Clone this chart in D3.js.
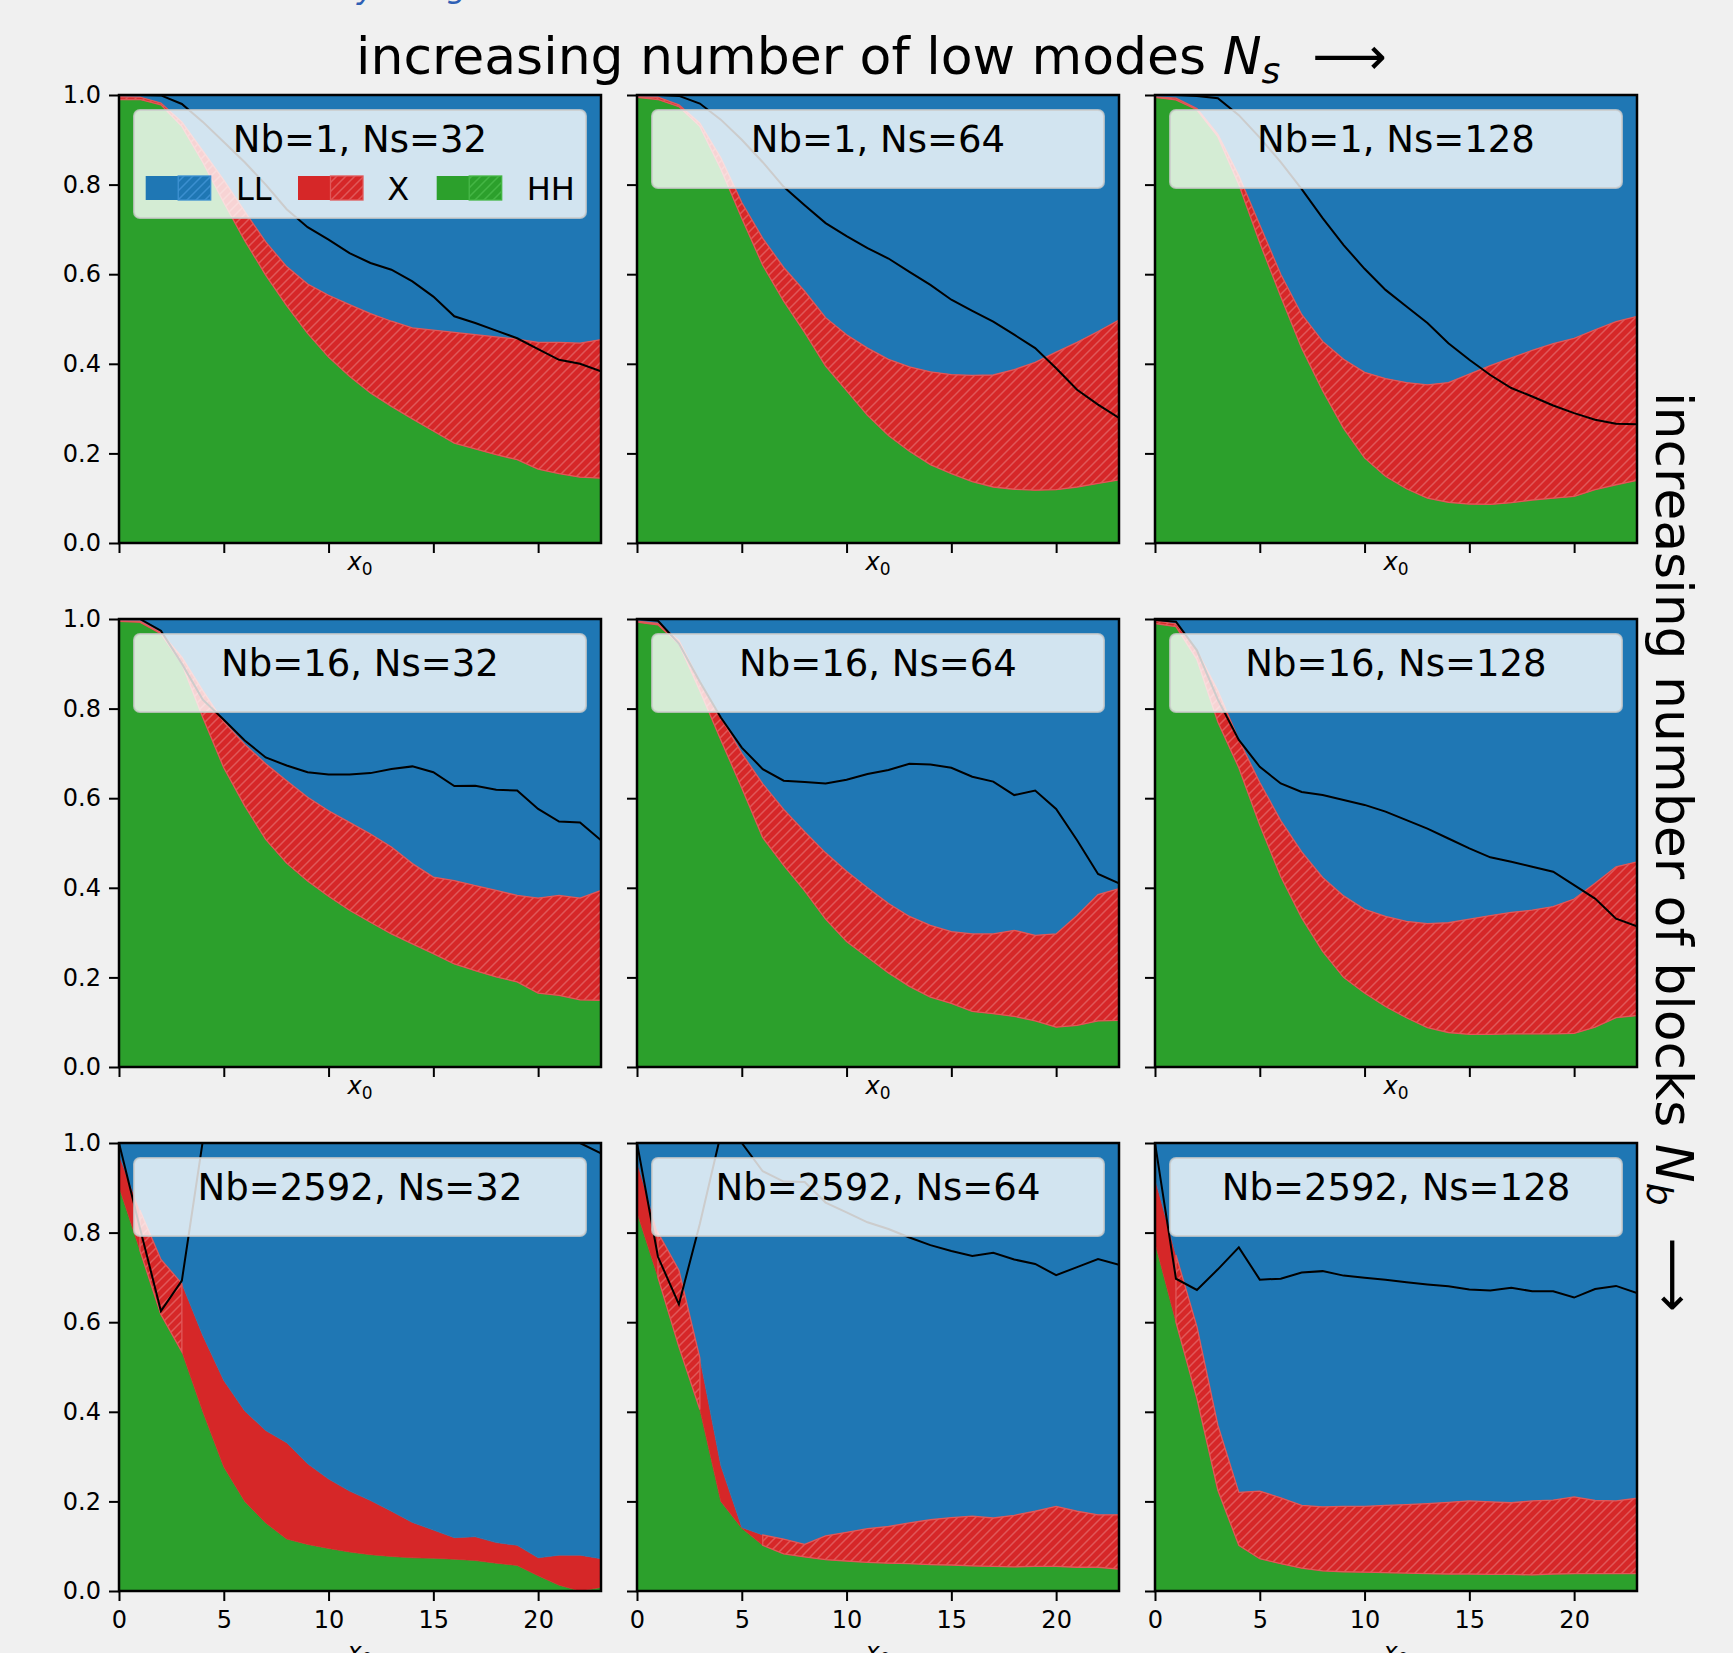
<!DOCTYPE html>
<html>
<head>
<meta charset="utf-8">
<script src="https://cdn.jsdelivr.net/npm/d3@7"></script>
<style>
  body { margin: 0; background: #f0f0f0; }
  svg { display: block; }
  text { font-family: "DejaVu Sans", sans-serif; }
</style>
</head>
<body>
<div id="chart"></div>
<script>
// x0 positions and tick values
const xVals = [0,1,2,3,4,5,6,7,8,9,10,11,12,13,14,15,16,17,18,19,20,21,22,23];
const xTicks = [0,5,10,15,20];
const yTicks = [0,0.2,0.4,0.6,0.8,1.0];
const nbList = [1, 16, 2592];
const nsList = [32, 64, 128];
const seriesKeys = ["HH","X","LL"];
const seriesColors = ["#2ca02c","#d62728","#1f77b4"];
const legendLabels = ["LL","X","HH"];
const legendColors = ["#1f77b4","#d62728","#2ca02c"];

// Nb=1, Ns=32
const hh_1_32 = [0.99,0.99,0.978,0.93,0.85,0.76,0.675,0.598,0.53,0.468,0.415,0.372,0.335,0.305,0.277,0.25,0.223,0.21,0.197,0.186,0.165,0.155,0.147,0.145];
const x_1_32  = [0.006,0.005,0.004,0.01,0.025,0.05,0.065,0.074,0.087,0.11,0.138,0.16,0.177,0.19,0.203,0.225,0.247,0.255,0.263,0.269,0.283,0.293,0.299,0.309];
const ll_1_32 = [0.004,0.005,0.018,0.06,0.125,0.19,0.26,0.328,0.383,0.422,0.447,0.468,0.488,0.505,0.52,0.525,0.53,0.535,0.54,0.545,0.552,0.552,0.554,0.546];
const r_1_32  = [1.0,1.0,0.999,0.98,0.94,0.895,0.85,0.80,0.745,0.705,0.677,0.647,0.625,0.61,0.584,0.55,0.506,0.491,0.474,0.457,0.433,0.409,0.4,0.383];

// Nb=1, Ns=64
const hh_1_64 = [0.995,0.99,0.974,0.93,0.835,0.725,0.62,0.54,0.47,0.395,0.34,0.285,0.24,0.205,0.175,0.155,0.137,0.125,0.12,0.118,0.119,0.125,0.133,0.141];
const x_1_64  = [0.001,0.005,0.004,0.007,0.025,0.035,0.06,0.075,0.092,0.108,0.125,0.15,0.17,0.188,0.207,0.221,0.237,0.25,0.267,0.285,0.307,0.323,0.339,0.357];
const ll_1_64 = [0.004,0.005,0.022,0.063,0.14,0.24,0.32,0.385,0.438,0.497,0.535,0.565,0.59,0.607,0.618,0.624,0.626,0.625,0.613,0.597,0.574,0.552,0.528,0.502];
const r_1_64  = [1.0,1.0,0.998,0.981,0.945,0.9,0.85,0.795,0.754,0.714,0.685,0.658,0.635,0.605,0.576,0.543,0.518,0.494,0.465,0.435,0.39,0.342,0.309,0.279];

// Nb=1, Ns=128
const hh_1_128 = [0.995,0.989,0.967,0.907,0.8,0.67,0.55,0.435,0.34,0.256,0.19,0.149,0.121,0.1,0.091,0.087,0.086,0.09,0.096,0.1,0.104,0.119,0.13,0.14];
const x_1_128  = [0.001,0.004,0.003,0.005,0.02,0.04,0.05,0.075,0.11,0.154,0.191,0.218,0.237,0.253,0.267,0.29,0.31,0.323,0.334,0.345,0.353,0.357,0.364,0.366];
const ll_1_128 = [0.004,0.007,0.03,0.088,0.18,0.29,0.4,0.49,0.55,0.59,0.619,0.633,0.642,0.647,0.642,0.623,0.604,0.587,0.57,0.555,0.543,0.524,0.506,0.494];
const r_1_128  = [1.0,1.0,0.998,0.993,0.955,0.905,0.85,0.79,0.725,0.665,0.612,0.565,0.528,0.491,0.446,0.409,0.375,0.346,0.327,0.307,0.29,0.275,0.266,0.265];

// Nb=16, Ns=32
const hh_16_32 = [0.995,0.993,0.967,0.9,0.78,0.668,0.583,0.508,0.455,0.415,0.381,0.35,0.323,0.297,0.275,0.253,0.23,0.215,0.201,0.19,0.165,0.16,0.15,0.149];
const x_16_32  = [0.001,0.002,0.003,0.015,0.06,0.102,0.137,0.169,0.184,0.187,0.191,0.196,0.197,0.194,0.179,0.171,0.186,0.19,0.193,0.193,0.212,0.223,0.227,0.245];
const ll_16_32 = [0.004,0.005,0.03,0.085,0.16,0.23,0.28,0.323,0.361,0.398,0.428,0.454,0.48,0.509,0.546,0.576,0.584,0.595,0.606,0.617,0.623,0.617,0.623,0.606];
const r_16_32  = [1.0,1.0,0.974,0.9,0.82,0.775,0.729,0.691,0.673,0.658,0.653,0.653,0.656,0.665,0.671,0.658,0.627,0.628,0.619,0.617,0.576,0.548,0.546,0.506];

// Nb=16, Ns=64
const hh_16_64 = [0.993,0.987,0.944,0.84,0.73,0.623,0.512,0.45,0.393,0.33,0.28,0.245,0.21,0.18,0.156,0.142,0.124,0.119,0.113,0.103,0.089,0.093,0.103,0.104];
const x_16_64  = [0.002,0.003,0.008,0.02,0.05,0.077,0.12,0.125,0.132,0.148,0.157,0.155,0.155,0.156,0.16,0.16,0.173,0.178,0.192,0.191,0.208,0.245,0.282,0.294];
const ll_16_64 = [0.005,0.01,0.048,0.14,0.22,0.3,0.368,0.425,0.475,0.522,0.563,0.6,0.635,0.664,0.684,0.698,0.703,0.703,0.695,0.706,0.703,0.662,0.615,0.602];
const r_16_64  = [1.0,0.996,0.945,0.86,0.78,0.713,0.665,0.639,0.636,0.633,0.641,0.654,0.663,0.677,0.675,0.668,0.648,0.637,0.607,0.617,0.576,0.506,0.431,0.41];

// Nb=16, Ns=128
const hh_16_128 = [0.99,0.983,0.91,0.77,0.668,0.54,0.425,0.333,0.258,0.2,0.165,0.135,0.11,0.088,0.077,0.073,0.073,0.074,0.074,0.074,0.075,0.089,0.11,0.115];
const x_16_128  = [0.006,0.006,0.02,0.07,0.062,0.095,0.125,0.147,0.165,0.182,0.187,0.201,0.215,0.232,0.245,0.257,0.265,0.271,0.276,0.284,0.3,0.321,0.337,0.343];
const ll_16_128 = [0.004,0.011,0.07,0.16,0.27,0.365,0.45,0.52,0.577,0.618,0.648,0.664,0.675,0.68,0.678,0.67,0.662,0.655,0.65,0.642,0.625,0.59,0.553,0.542];
const r_16_128  = [0.998,0.994,0.93,0.82,0.73,0.67,0.633,0.614,0.607,0.596,0.585,0.57,0.551,0.532,0.51,0.488,0.468,0.458,0.447,0.436,0.406,0.376,0.331,0.314];

// Nb=2592, Ns=32
const hh_2592_32 = [0.902,0.76,0.617,0.534,0.40,0.277,0.2,0.152,0.116,0.104,0.095,0.087,0.081,0.077,0.074,0.073,0.071,0.068,0.062,0.057,0.034,0.013,0.0,0.008];
const x_2592_32  = [0.071,0.09,0.123,0.152,0.17,0.193,0.202,0.206,0.215,0.18,0.155,0.136,0.121,0.101,0.079,0.063,0.048,0.053,0.046,0.045,0.04,0.067,0.08,0.064];
const ll_2592_32 = [0.027,0.15,0.26,0.314,0.43,0.53,0.598,0.642,0.669,0.716,0.75,0.777,0.798,0.822,0.847,0.864,0.881,0.879,0.892,0.898,0.926,0.92,0.92,0.928];
const r_2592_32  = [1.0,0.81,0.625,0.693,1.005,1.08,1.12,1.15,1.17,1.18,1.18,1.17,1.16,1.15,1.14,1.13,1.12,1.1,1.08,1.06,1.04,1.02,1.0,0.977];

// Nb=2592, Ns=64
const hh_2592_64 = [0.845,0.7,0.545,0.405,0.2,0.14,0.102,0.083,0.076,0.07,0.067,0.064,0.062,0.061,0.059,0.058,0.056,0.055,0.054,0.055,0.055,0.053,0.053,0.049];
const x_2592_64  = [0.113,0.1,0.171,0.115,0.08,0.002,0.023,0.033,0.028,0.053,0.064,0.075,0.082,0.091,0.1,0.106,0.111,0.108,0.115,0.123,0.134,0.125,0.117,0.121];
const ll_2592_64 = [0.042,0.2,0.284,0.48,0.72,0.858,0.875,0.884,0.896,0.877,0.869,0.861,0.856,0.848,0.841,0.836,0.833,0.837,0.831,0.822,0.811,0.822,0.83,0.83];
const r_2592_64  = [1.0,0.746,0.64,0.82,1.02,1.0,0.937,0.914,0.913,0.867,0.845,0.823,0.808,0.789,0.772,0.759,0.748,0.755,0.74,0.73,0.705,0.723,0.741,0.728];

// Nb=2592, Ns=128
const hh_2592_128 = [0.777,0.6,0.43,0.225,0.102,0.072,0.061,0.051,0.045,0.043,0.042,0.041,0.04,0.039,0.038,0.038,0.037,0.037,0.036,0.038,0.039,0.039,0.039,0.039];
const x_2592_128  = [0.143,0.15,0.16,0.145,0.118,0.151,0.147,0.14,0.143,0.146,0.147,0.15,0.153,0.156,0.16,0.163,0.162,0.16,0.165,0.165,0.171,0.163,0.162,0.168];
const ll_2592_128 = [0.08,0.25,0.41,0.63,0.78,0.777,0.792,0.809,0.812,0.811,0.811,0.809,0.807,0.805,0.802,0.799,0.801,0.803,0.799,0.797,0.79,0.798,0.799,0.793];
const r_2592_128  = [1.0,0.697,0.672,0.718,0.767,0.695,0.697,0.711,0.714,0.704,0.699,0.695,0.689,0.684,0.68,0.673,0.671,0.677,0.669,0.669,0.655,0.674,0.681,0.665];

// where the X band is hatched (1) or plain (0)
const hatchAll       = [1,1,1,1,1,1,1,1,1,1,1,1,1,1,1,1,1,1,1,1,1,1,1,1];
const hatch_2592_32  = [0,1,1,1,0,0,0,0,0,0,0,0,0,0,0,0,0,0,0,0,0,0,0,0];
const hatch_2592_64  = [0,1,1,1,0,0,1,1,1,1,1,1,1,1,1,1,1,1,1,1,1,1,1,1];
const hatch_2592_128 = [0,1,1,1,1,1,1,1,1,1,1,1,1,1,1,1,1,1,1,1,1,1,1,1];

const panels = [
  {row:0, col:0, hh:hh_1_32,  xc:x_1_32,  ll:ll_1_32,  r:r_1_32,  hatch:hatchAll},
  {row:0, col:1, hh:hh_1_64,  xc:x_1_64,  ll:ll_1_64,  r:r_1_64,  hatch:hatchAll},
  {row:0, col:2, hh:hh_1_128, xc:x_1_128, ll:ll_1_128, r:r_1_128, hatch:hatchAll},
  {row:1, col:0, hh:hh_16_32,  xc:x_16_32,  ll:ll_16_32,  r:r_16_32,  hatch:hatchAll},
  {row:1, col:1, hh:hh_16_64,  xc:x_16_64,  ll:ll_16_64,  r:r_16_64,  hatch:hatchAll},
  {row:1, col:2, hh:hh_16_128, xc:x_16_128, ll:ll_16_128, r:r_16_128, hatch:hatchAll},
  {row:2, col:0, hh:hh_2592_32,  xc:x_2592_32,  ll:ll_2592_32,  r:r_2592_32,  hatch:hatch_2592_32},
  {row:2, col:1, hh:hh_2592_64,  xc:x_2592_64,  ll:ll_2592_64,  r:r_2592_64,  hatch:hatch_2592_64},
  {row:2, col:2, hh:hh_2592_128, xc:x_2592_128, ll:ll_2592_128, r:r_2592_128, hatch:hatch_2592_128},
];

// layout
const W = 1733, H = 1653;
const colLeft = [119, 637, 1155];
const rowTop = [95, 619, 1143];
const pw = 482, ph = 448;

const svg = d3.select("#chart").append("svg").attr("width", W).attr("height", H);
svg.append("rect").attr("width", W).attr("height", H).attr("fill", "#f0f0f0");
const defs = svg.append("defs");

function hatchPattern(id, base, lineColor) {
  const s = 9;
  const p = defs.append("pattern").attr("id", id)
    .attr("patternUnits", "userSpaceOnUse").attr("width", s).attr("height", s);
  p.append("rect").attr("width", s).attr("height", s).attr("fill", base);
  p.append("path")
    .attr("d", `M-2,2L2,-2M0,${s}L${s},0M${s-2},${s+2}L${s+2},${s-2}`)
    .attr("stroke", lineColor).attr("stroke-width", 1.5);
}
hatchPattern("hatch-red", "#d62728", "#e05859");
hatchPattern("hatch-blue", "#1f77b4", "#3b8fd0");
hatchPattern("hatch-green", "#2ca02c", "#44b644");
const hatchIds = {"#d62728": "hatch-red", "#1f77b4": "hatch-blue", "#2ca02c": "hatch-green"};
const hatchEdge = {"#d62728": "#e05859", "#1f77b4": "#3b8fd0", "#2ca02c": "#44b644"};

// cropped blue caption remnant at the very top
svg.append("text").attr("x", 357).attr("y", -2).attr("font-family", "Liberation Serif")
  .attr("font-style", "italic").attr("font-size", 32).attr("fill", "#2e5fb5").text("y");
svg.append("text").attr("x", 447).attr("y", -3).attr("font-family", "Liberation Serif")
  .attr("font-style", "italic").attr("font-size", 32).attr("fill", "#2e5fb5").text("g");

panels.forEach(p => {
  const left = colLeft[p.col], top = rowTop[p.row];
  const x = d3.scaleLinear().domain([0, 23]).range([left, left + pw]);
  const y = d3.scaleLinear().domain([0, 1]).range([top + ph, top]);
  const g = svg.append("g");

  const clipId = `clip-${p.row}-${p.col}`;
  defs.append("clipPath").attr("id", clipId)
    .append("rect").attr("x", left).attr("y", top).attr("width", pw).attr("height", ph);

  const rows = xVals.map((xv, i) => ({x: xv, HH: p.hh[i], X: p.xc[i], LL: p.ll[i]}));
  const stacked = d3.stack().keys(seriesKeys)(rows);
  const area = d3.area()
    .x(d => x(d.data.x))
    .y0(d => y(d[0]))
    .y1(d => y(d[1]));

  const plot = g.append("g").attr("clip-path", `url(#${clipId})`);
  plot.selectAll("path.layer").data(stacked).join("path")
    .attr("class", "layer")
    .attr("d", area)
    .attr("fill", (d, i) => seriesColors[i])
    .attr("stroke", (d, i) => seriesColors[i])
    .attr("stroke-width", 0.6);

  // hatched part of the X band
  const hatchArea = d3.area()
    .defined((d, i) => p.hatch[i] === 1)
    .x(d => x(d.data.x))
    .y0(d => y(d[0]))
    .y1(d => y(d[1]));
  plot.append("path").datum(stacked[1])
    .attr("d", hatchArea)
    .attr("fill", "url(#hatch-red)")
    .attr("stroke", "#e05859")
    .attr("stroke-width", 1.3);

  // ratio line
  const line = d3.line().x((d, i) => x(xVals[i])).y(d => y(d));
  plot.append("path").datum(p.r)
    .attr("d", line)
    .attr("fill", "none")
    .attr("stroke", "#000")
    .attr("stroke-width", 2);

  // axes
  const yAxis = d3.axisLeft(y).tickValues(yTicks).tickSize(10).tickPadding(8)
    .tickFormat(p.col === 0 ? d3.format(".1f") : () => "");
  const ya = g.append("g").attr("transform", `translate(${left},0)`).call(yAxis)
    .attr("font-size", 24).attr("font-family", "DejaVu Sans");
  ya.select(".domain").remove();
  ya.selectAll("line").attr("stroke-width", 2);
  ya.selectAll("text").attr("fill", "#000");

  const xAxis = d3.axisBottom(x).tickValues(xTicks).tickSize(10).tickPadding(10)
    .tickFormat(p.row === 2 ? d3.format("d") : () => "");
  const xa = g.append("g").attr("transform", `translate(0,${top + ph})`).call(xAxis)
    .attr("font-size", 24).attr("font-family", "DejaVu Sans");
  xa.select(".domain").remove();
  xa.selectAll("line").attr("stroke-width", 2);
  xa.selectAll("text").attr("fill", "#000");

  // frame
  g.append("rect").attr("x", left).attr("y", top).attr("width", pw).attr("height", ph)
    .attr("fill", "none").attr("stroke", "#000").attr("stroke-width", 2.5);

  // x label
  const xl = g.append("text")
    .attr("x", left + pw / 2)
    .attr("y", top + ph + (p.row === 2 ? 69 : 27))
    .attr("text-anchor", "middle").attr("font-size", 24);
  xl.append("tspan").attr("font-style", "italic").text("x");
  xl.append("tspan").attr("font-size", 17).attr("dy", 5).text("0");

  // legend
  const withEntries = p.row === 0 && p.col === 0;
  const lg = g.append("g");
  lg.append("rect")
    .attr("x", left + 15).attr("y", top + 15)
    .attr("width", 452).attr("height", withEntries ? 108 : 78)
    .attr("rx", 6)
    .attr("fill", "#ffffff").attr("fill-opacity", 0.8)
    .attr("stroke", "#cccccc").attr("stroke-opacity", 0.8).attr("stroke-width", 2);
  lg.append("text")
    .attr("x", left + 241).attr("y", top + 57)
    .attr("text-anchor", "middle").attr("font-size", 37)
    .text(`Nb=${nbList[p.row]}, Ns=${nsList[p.col]}`);

  if (withEntries) {
    const patchX = [26.7, 179, 317.7];
    const labelX = [117, 268.3, 407.7];
    legendLabels.forEach((lab, k) => {
      const c = legendColors[k];
      const px = left + patchX[k], py = top + 81;
      lg.append("rect").attr("x", px).attr("y", py).attr("width", 32.5).attr("height", 24).attr("fill", c);
      lg.append("rect").attr("x", px + 32.5).attr("y", py).attr("width", 32.5).attr("height", 24)
        .attr("fill", `url(#${hatchIds[c]})`).attr("stroke", hatchEdge[c]).attr("stroke-width", 1.3);
      lg.append("text").attr("x", left + labelX[k]).attr("y", top + 105)
        .attr("font-size", 32).text(lab);
    });
  }
});

// column title
const title = svg.append("text").attr("x", 356).attr("y", 74).attr("font-size", 52);
title.append("tspan").text("increasing number of low modes ");
title.append("tspan").attr("font-style", "italic").text("N");
title.append("tspan").attr("font-style", "italic").attr("font-size", 36).attr("dy", 9).text("s");
title.append("tspan").attr("dy", -9).attr("dx", 32).text("\u27F6");

// row title, rotated
const side = svg.append("text")
  .attr("transform", "translate(1656,392) rotate(90)")
  .attr("font-size", 52);
side.append("tspan").text("increasing number of blocks ");
side.append("tspan").attr("font-style", "italic").text("N");
side.append("tspan").attr("font-style", "italic").attr("font-size", 36).attr("dy", 9).text("b");
side.append("tspan").attr("dy", -9).attr("dx", 32).text("\u27F6");
</script>
</body>
</html>
